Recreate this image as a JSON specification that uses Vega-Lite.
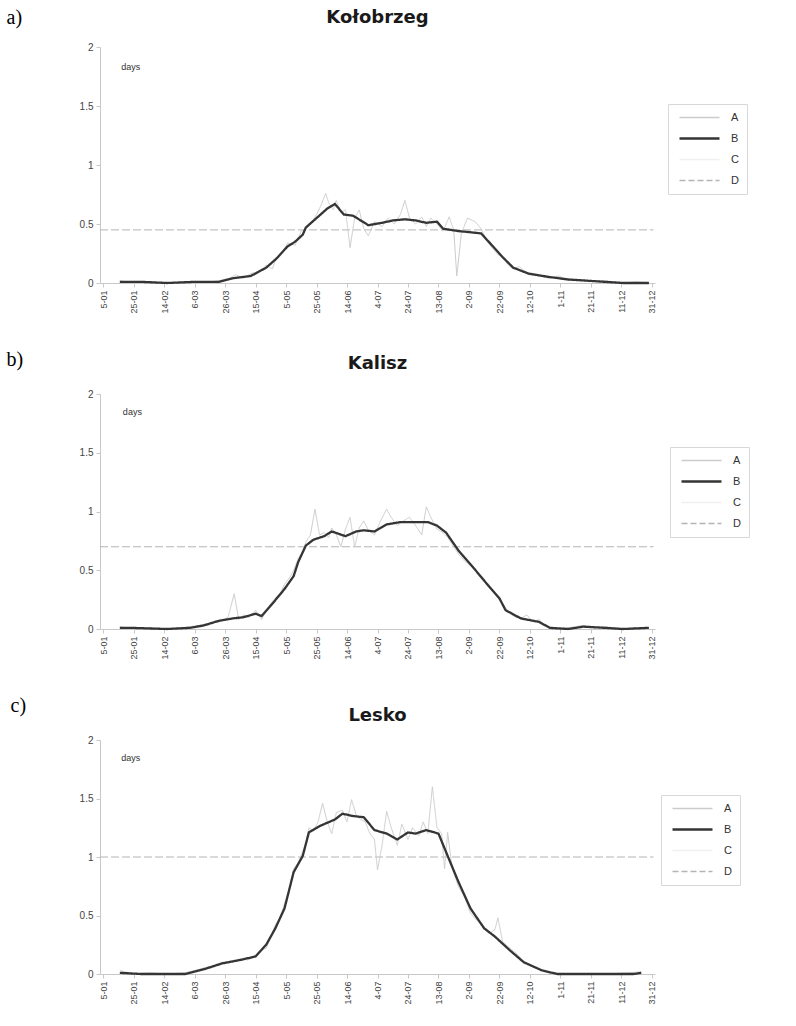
{
  "$schema": "https://vega.github.io/schema/vega-lite/v6.json",
  "background": "white",
  "padding": {"left": 6, "top": 7, "right": 5, "bottom": 5},
  "spacing": 35,
  "config": {
    "view": {"stroke": null},
    "font": "Liberation Sans",
    "axis": {"grid": false, "domainColor": "#c8c8c8", "tickColor": "#c8c8c8", "tickSize": 4, "labelFontSize": 9, "labelColor": "#444", "labelPadding": 3, "labelOverlap": false},
    "title": {"font": "DejaVu Sans", "fontSize": 18, "fontWeight": "bold", "color": "#1a1a1a"}
  },
  "resolve": {"scale": {"color": "independent"}, "legend": {"color": "independent"}},
  "datasets": {
    "notes": [
      {"station": "Kołobrzeg", "day": 17, "value": 1.83, "label": "days"},
      {"station": "Kalisz", "day": 18, "value": 1.85, "label": "days"},
      {"station": "Lesko", "day": 17, "value": 1.85, "label": "days"}
    ],
    "curves": [
      {"station": "Kołobrzeg", "series": "D", "day": 3, "value": 0.45},
      {"station": "Kołobrzeg", "series": "D", "day": 366, "value": 0.45},
      {"station": "Kalisz", "series": "D", "day": 3, "value": 0.70},
      {"station": "Kalisz", "series": "D", "day": 366, "value": 0.70},
      {"station": "Lesko", "series": "D", "day": 3, "value": 1.0},
      {"station": "Lesko", "series": "D", "day": 366, "value": 1.0},

      {"station": "Kołobrzeg", "series": "A", "day": 16, "value": 0.02},
      {"station": "Kołobrzeg", "series": "A", "day": 25, "value": 0.0},
      {"station": "Kołobrzeg", "series": "A", "day": 35, "value": 0.01},
      {"station": "Kołobrzeg", "series": "A", "day": 47, "value": 0.0},
      {"station": "Kołobrzeg", "series": "A", "day": 60, "value": 0.01},
      {"station": "Kołobrzeg", "series": "A", "day": 70, "value": 0.0},
      {"station": "Kołobrzeg", "series": "A", "day": 81, "value": 0.02},
      {"station": "Kołobrzeg", "series": "A", "day": 88, "value": 0.04},
      {"station": "Kołobrzeg", "series": "A", "day": 92, "value": 0.07},
      {"station": "Kołobrzeg", "series": "A", "day": 97, "value": 0.04},
      {"station": "Kołobrzeg", "series": "A", "day": 102, "value": 0.08},
      {"station": "Kołobrzeg", "series": "A", "day": 108, "value": 0.10},
      {"station": "Kołobrzeg", "series": "A", "day": 112, "value": 0.15},
      {"station": "Kołobrzeg", "series": "A", "day": 116, "value": 0.12},
      {"station": "Kołobrzeg", "series": "A", "day": 119, "value": 0.22},
      {"station": "Kołobrzeg", "series": "A", "day": 123, "value": 0.26},
      {"station": "Kołobrzeg", "series": "A", "day": 126, "value": 0.34},
      {"station": "Kołobrzeg", "series": "A", "day": 131, "value": 0.32},
      {"station": "Kołobrzeg", "series": "A", "day": 135, "value": 0.44},
      {"station": "Kołobrzeg", "series": "A", "day": 138, "value": 0.46},
      {"station": "Kołobrzeg", "series": "A", "day": 142, "value": 0.52},
      {"station": "Kołobrzeg", "series": "A", "day": 145, "value": 0.58},
      {"station": "Kołobrzeg", "series": "A", "day": 148, "value": 0.66},
      {"station": "Kołobrzeg", "series": "A", "day": 151, "value": 0.76},
      {"station": "Kołobrzeg", "series": "A", "day": 153, "value": 0.68},
      {"station": "Kołobrzeg", "series": "A", "day": 156, "value": 0.62},
      {"station": "Kołobrzeg", "series": "A", "day": 158, "value": 0.70},
      {"station": "Kołobrzeg", "series": "A", "day": 161, "value": 0.60},
      {"station": "Kołobrzeg", "series": "A", "day": 164, "value": 0.62},
      {"station": "Kołobrzeg", "series": "A", "day": 167, "value": 0.30},
      {"station": "Kołobrzeg", "series": "A", "day": 170, "value": 0.55},
      {"station": "Kołobrzeg", "series": "A", "day": 173, "value": 0.62},
      {"station": "Kołobrzeg", "series": "A", "day": 176, "value": 0.46},
      {"station": "Kołobrzeg", "series": "A", "day": 179, "value": 0.40},
      {"station": "Kołobrzeg", "series": "A", "day": 183, "value": 0.52},
      {"station": "Kołobrzeg", "series": "A", "day": 188, "value": 0.48},
      {"station": "Kołobrzeg", "series": "A", "day": 192, "value": 0.55},
      {"station": "Kołobrzeg", "series": "A", "day": 196, "value": 0.50},
      {"station": "Kołobrzeg", "series": "A", "day": 200, "value": 0.58},
      {"station": "Kołobrzeg", "series": "A", "day": 203, "value": 0.70},
      {"station": "Kołobrzeg", "series": "A", "day": 206, "value": 0.55},
      {"station": "Kołobrzeg", "series": "A", "day": 210, "value": 0.50},
      {"station": "Kołobrzeg", "series": "A", "day": 214, "value": 0.56},
      {"station": "Kołobrzeg", "series": "A", "day": 217, "value": 0.48},
      {"station": "Kołobrzeg", "series": "A", "day": 220, "value": 0.55},
      {"station": "Kołobrzeg", "series": "A", "day": 224, "value": 0.50},
      {"station": "Kołobrzeg", "series": "A", "day": 228, "value": 0.44},
      {"station": "Kołobrzeg", "series": "A", "day": 232, "value": 0.56},
      {"station": "Kołobrzeg", "series": "A", "day": 235, "value": 0.45},
      {"station": "Kołobrzeg", "series": "A", "day": 237, "value": 0.06},
      {"station": "Kołobrzeg", "series": "A", "day": 240, "value": 0.42},
      {"station": "Kołobrzeg", "series": "A", "day": 244, "value": 0.55},
      {"station": "Kołobrzeg", "series": "A", "day": 249, "value": 0.52},
      {"station": "Kołobrzeg", "series": "A", "day": 253, "value": 0.46},
      {"station": "Kołobrzeg", "series": "A", "day": 256, "value": 0.38},
      {"station": "Kołobrzeg", "series": "A", "day": 260, "value": 0.30},
      {"station": "Kołobrzeg", "series": "A", "day": 264, "value": 0.24},
      {"station": "Kołobrzeg", "series": "A", "day": 267, "value": 0.22},
      {"station": "Kołobrzeg", "series": "A", "day": 271, "value": 0.15},
      {"station": "Kołobrzeg", "series": "A", "day": 274, "value": 0.12},
      {"station": "Kołobrzeg", "series": "A", "day": 278, "value": 0.14},
      {"station": "Kołobrzeg", "series": "A", "day": 284, "value": 0.07},
      {"station": "Kołobrzeg", "series": "A", "day": 290, "value": 0.06},
      {"station": "Kołobrzeg", "series": "A", "day": 298, "value": 0.04},
      {"station": "Kołobrzeg", "series": "A", "day": 304, "value": 0.06},
      {"station": "Kołobrzeg", "series": "A", "day": 310, "value": 0.02},
      {"station": "Kołobrzeg", "series": "A", "day": 320, "value": 0.02},
      {"station": "Kołobrzeg", "series": "A", "day": 334, "value": 0.02},
      {"station": "Kołobrzeg", "series": "A", "day": 346, "value": 0.0},
      {"station": "Kołobrzeg", "series": "A", "day": 355, "value": 0.01},
      {"station": "Kołobrzeg", "series": "A", "day": 363, "value": 0.0},

      {"station": "Kalisz", "series": "A", "day": 16, "value": 0.02},
      {"station": "Kalisz", "series": "A", "day": 25, "value": 0.0},
      {"station": "Kalisz", "series": "A", "day": 35, "value": 0.01},
      {"station": "Kalisz", "series": "A", "day": 47, "value": 0.0},
      {"station": "Kalisz", "series": "A", "day": 56, "value": 0.01},
      {"station": "Kalisz", "series": "A", "day": 62, "value": 0.02},
      {"station": "Kalisz", "series": "A", "day": 68, "value": 0.03},
      {"station": "Kalisz", "series": "A", "day": 75, "value": 0.05},
      {"station": "Kalisz", "series": "A", "day": 81, "value": 0.06},
      {"station": "Kalisz", "series": "A", "day": 87, "value": 0.10},
      {"station": "Kalisz", "series": "A", "day": 91, "value": 0.30},
      {"station": "Kalisz", "series": "A", "day": 94, "value": 0.08},
      {"station": "Kalisz", "series": "A", "day": 97, "value": 0.12},
      {"station": "Kalisz", "series": "A", "day": 101, "value": 0.10},
      {"station": "Kalisz", "series": "A", "day": 105, "value": 0.16},
      {"station": "Kalisz", "series": "A", "day": 109, "value": 0.08},
      {"station": "Kalisz", "series": "A", "day": 113, "value": 0.18},
      {"station": "Kalisz", "series": "A", "day": 117, "value": 0.25},
      {"station": "Kalisz", "series": "A", "day": 121, "value": 0.30},
      {"station": "Kalisz", "series": "A", "day": 124, "value": 0.38},
      {"station": "Kalisz", "series": "A", "day": 128, "value": 0.45},
      {"station": "Kalisz", "series": "A", "day": 130, "value": 0.50},
      {"station": "Kalisz", "series": "A", "day": 133, "value": 0.60},
      {"station": "Kalisz", "series": "A", "day": 136, "value": 0.66},
      {"station": "Kalisz", "series": "A", "day": 138, "value": 0.74},
      {"station": "Kalisz", "series": "A", "day": 141, "value": 0.80},
      {"station": "Kalisz", "series": "A", "day": 144, "value": 1.02},
      {"station": "Kalisz", "series": "A", "day": 147, "value": 0.80},
      {"station": "Kalisz", "series": "A", "day": 150, "value": 0.82},
      {"station": "Kalisz", "series": "A", "day": 153, "value": 0.78},
      {"station": "Kalisz", "series": "A", "day": 155, "value": 0.86},
      {"station": "Kalisz", "series": "A", "day": 158, "value": 0.80},
      {"station": "Kalisz", "series": "A", "day": 161, "value": 0.70},
      {"station": "Kalisz", "series": "A", "day": 164, "value": 0.85},
      {"station": "Kalisz", "series": "A", "day": 167, "value": 0.95},
      {"station": "Kalisz", "series": "A", "day": 170, "value": 0.70},
      {"station": "Kalisz", "series": "A", "day": 173, "value": 0.86},
      {"station": "Kalisz", "series": "A", "day": 176, "value": 0.92},
      {"station": "Kalisz", "series": "A", "day": 179, "value": 0.84},
      {"station": "Kalisz", "series": "A", "day": 183, "value": 0.80},
      {"station": "Kalisz", "series": "A", "day": 187, "value": 0.92},
      {"station": "Kalisz", "series": "A", "day": 191, "value": 1.02},
      {"station": "Kalisz", "series": "A", "day": 194, "value": 0.95},
      {"station": "Kalisz", "series": "A", "day": 198, "value": 0.88},
      {"station": "Kalisz", "series": "A", "day": 202, "value": 0.92},
      {"station": "Kalisz", "series": "A", "day": 206, "value": 0.95},
      {"station": "Kalisz", "series": "A", "day": 210, "value": 0.88},
      {"station": "Kalisz", "series": "A", "day": 214, "value": 0.80},
      {"station": "Kalisz", "series": "A", "day": 217, "value": 1.04},
      {"station": "Kalisz", "series": "A", "day": 220, "value": 0.95},
      {"station": "Kalisz", "series": "A", "day": 224, "value": 0.85},
      {"station": "Kalisz", "series": "A", "day": 228, "value": 0.82},
      {"station": "Kalisz", "series": "A", "day": 231, "value": 0.78},
      {"station": "Kalisz", "series": "A", "day": 235, "value": 0.70},
      {"station": "Kalisz", "series": "A", "day": 238, "value": 0.64},
      {"station": "Kalisz", "series": "A", "day": 242, "value": 0.58},
      {"station": "Kalisz", "series": "A", "day": 245, "value": 0.55},
      {"station": "Kalisz", "series": "A", "day": 248, "value": 0.52},
      {"station": "Kalisz", "series": "A", "day": 252, "value": 0.46},
      {"station": "Kalisz", "series": "A", "day": 255, "value": 0.40},
      {"station": "Kalisz", "series": "A", "day": 258, "value": 0.38},
      {"station": "Kalisz", "series": "A", "day": 262, "value": 0.30},
      {"station": "Kalisz", "series": "A", "day": 265, "value": 0.25},
      {"station": "Kalisz", "series": "A", "day": 269, "value": 0.18},
      {"station": "Kalisz", "series": "A", "day": 273, "value": 0.12},
      {"station": "Kalisz", "series": "A", "day": 276, "value": 0.10},
      {"station": "Kalisz", "series": "A", "day": 279, "value": 0.09},
      {"station": "Kalisz", "series": "A", "day": 283, "value": 0.12},
      {"station": "Kalisz", "series": "A", "day": 287, "value": 0.06},
      {"station": "Kalisz", "series": "A", "day": 291, "value": 0.08},
      {"station": "Kalisz", "series": "A", "day": 295, "value": 0.03},
      {"station": "Kalisz", "series": "A", "day": 300, "value": 0.0},
      {"station": "Kalisz", "series": "A", "day": 310, "value": 0.01},
      {"station": "Kalisz", "series": "A", "day": 320, "value": 0.03},
      {"station": "Kalisz", "series": "A", "day": 328, "value": 0.01},
      {"station": "Kalisz", "series": "A", "day": 334, "value": 0.02},
      {"station": "Kalisz", "series": "A", "day": 346, "value": 0.0},
      {"station": "Kalisz", "series": "A", "day": 355, "value": 0.01},
      {"station": "Kalisz", "series": "A", "day": 363, "value": 0.01},

      {"station": "Lesko", "series": "A", "day": 16, "value": 0.03},
      {"station": "Lesko", "series": "A", "day": 25, "value": 0.0},
      {"station": "Lesko", "series": "A", "day": 35, "value": 0.01},
      {"station": "Lesko", "series": "A", "day": 47, "value": 0.0},
      {"station": "Lesko", "series": "A", "day": 59, "value": 0.01},
      {"station": "Lesko", "series": "A", "day": 65, "value": 0.03},
      {"station": "Lesko", "series": "A", "day": 71, "value": 0.05},
      {"station": "Lesko", "series": "A", "day": 77, "value": 0.07},
      {"station": "Lesko", "series": "A", "day": 83, "value": 0.10},
      {"station": "Lesko", "series": "A", "day": 89, "value": 0.11},
      {"station": "Lesko", "series": "A", "day": 95, "value": 0.13},
      {"station": "Lesko", "series": "A", "day": 100, "value": 0.12},
      {"station": "Lesko", "series": "A", "day": 105, "value": 0.16},
      {"station": "Lesko", "series": "A", "day": 108, "value": 0.20},
      {"station": "Lesko", "series": "A", "day": 112, "value": 0.22},
      {"station": "Lesko", "series": "A", "day": 115, "value": 0.32},
      {"station": "Lesko", "series": "A", "day": 118, "value": 0.42},
      {"station": "Lesko", "series": "A", "day": 121, "value": 0.48},
      {"station": "Lesko", "series": "A", "day": 124, "value": 0.60},
      {"station": "Lesko", "series": "A", "day": 127, "value": 0.72},
      {"station": "Lesko", "series": "A", "day": 130, "value": 0.90},
      {"station": "Lesko", "series": "A", "day": 133, "value": 0.95},
      {"station": "Lesko", "series": "A", "day": 136, "value": 1.05},
      {"station": "Lesko", "series": "A", "day": 138, "value": 1.12},
      {"station": "Lesko", "series": "A", "day": 140, "value": 1.25},
      {"station": "Lesko", "series": "A", "day": 143, "value": 1.22},
      {"station": "Lesko", "series": "A", "day": 146, "value": 1.30},
      {"station": "Lesko", "series": "A", "day": 149, "value": 1.46},
      {"station": "Lesko", "series": "A", "day": 152, "value": 1.30},
      {"station": "Lesko", "series": "A", "day": 155, "value": 1.20},
      {"station": "Lesko", "series": "A", "day": 158, "value": 1.38},
      {"station": "Lesko", "series": "A", "day": 162, "value": 1.40},
      {"station": "Lesko", "series": "A", "day": 165, "value": 1.30},
      {"station": "Lesko", "series": "A", "day": 168, "value": 1.49},
      {"station": "Lesko", "series": "A", "day": 171, "value": 1.36},
      {"station": "Lesko", "series": "A", "day": 174, "value": 1.32},
      {"station": "Lesko", "series": "A", "day": 177, "value": 1.30},
      {"station": "Lesko", "series": "A", "day": 180, "value": 1.20},
      {"station": "Lesko", "series": "A", "day": 183, "value": 1.15},
      {"station": "Lesko", "series": "A", "day": 185, "value": 0.89},
      {"station": "Lesko", "series": "A", "day": 188, "value": 1.10},
      {"station": "Lesko", "series": "A", "day": 191, "value": 1.39},
      {"station": "Lesko", "series": "A", "day": 194, "value": 1.25},
      {"station": "Lesko", "series": "A", "day": 198, "value": 1.10},
      {"station": "Lesko", "series": "A", "day": 201, "value": 1.28},
      {"station": "Lesko", "series": "A", "day": 205, "value": 1.15},
      {"station": "Lesko", "series": "A", "day": 208, "value": 1.25},
      {"station": "Lesko", "series": "A", "day": 212, "value": 1.18},
      {"station": "Lesko", "series": "A", "day": 215, "value": 1.30},
      {"station": "Lesko", "series": "A", "day": 218, "value": 1.20},
      {"station": "Lesko", "series": "A", "day": 221, "value": 1.60},
      {"station": "Lesko", "series": "A", "day": 224, "value": 1.25},
      {"station": "Lesko", "series": "A", "day": 227, "value": 1.20},
      {"station": "Lesko", "series": "A", "day": 229, "value": 0.90},
      {"station": "Lesko", "series": "A", "day": 231, "value": 1.21},
      {"station": "Lesko", "series": "A", "day": 234, "value": 0.90},
      {"station": "Lesko", "series": "A", "day": 238, "value": 0.75},
      {"station": "Lesko", "series": "A", "day": 242, "value": 0.66},
      {"station": "Lesko", "series": "A", "day": 246, "value": 0.52},
      {"station": "Lesko", "series": "A", "day": 250, "value": 0.46},
      {"station": "Lesko", "series": "A", "day": 255, "value": 0.40},
      {"station": "Lesko", "series": "A", "day": 259, "value": 0.35},
      {"station": "Lesko", "series": "A", "day": 262, "value": 0.38},
      {"station": "Lesko", "series": "A", "day": 264, "value": 0.48},
      {"station": "Lesko", "series": "A", "day": 267, "value": 0.28},
      {"station": "Lesko", "series": "A", "day": 270, "value": 0.24},
      {"station": "Lesko", "series": "A", "day": 274, "value": 0.20},
      {"station": "Lesko", "series": "A", "day": 278, "value": 0.15},
      {"station": "Lesko", "series": "A", "day": 281, "value": 0.10},
      {"station": "Lesko", "series": "A", "day": 285, "value": 0.08},
      {"station": "Lesko", "series": "A", "day": 289, "value": 0.05},
      {"station": "Lesko", "series": "A", "day": 293, "value": 0.03},
      {"station": "Lesko", "series": "A", "day": 298, "value": 0.01},
      {"station": "Lesko", "series": "A", "day": 303, "value": 0.0},
      {"station": "Lesko", "series": "A", "day": 315, "value": 0.0},
      {"station": "Lesko", "series": "A", "day": 334, "value": 0.0},
      {"station": "Lesko", "series": "A", "day": 350, "value": 0.01},
      {"station": "Lesko", "series": "A", "day": 358, "value": 0.02},

      {"station": "Kołobrzeg", "series": "B", "day": 16, "value": 0.01},
      {"station": "Kołobrzeg", "series": "B", "day": 30, "value": 0.01},
      {"station": "Kołobrzeg", "series": "B", "day": 47, "value": 0.0},
      {"station": "Kołobrzeg", "series": "B", "day": 65, "value": 0.01},
      {"station": "Kołobrzeg", "series": "B", "day": 81, "value": 0.01},
      {"station": "Kołobrzeg", "series": "B", "day": 90, "value": 0.04},
      {"station": "Kołobrzeg", "series": "B", "day": 102, "value": 0.06},
      {"station": "Kołobrzeg", "series": "B", "day": 112, "value": 0.13},
      {"station": "Kołobrzeg", "series": "B", "day": 119, "value": 0.21},
      {"station": "Kołobrzeg", "series": "B", "day": 126, "value": 0.31},
      {"station": "Kołobrzeg", "series": "B", "day": 131, "value": 0.35},
      {"station": "Kołobrzeg", "series": "B", "day": 136, "value": 0.41},
      {"station": "Kołobrzeg", "series": "B", "day": 138, "value": 0.47},
      {"station": "Kołobrzeg", "series": "B", "day": 145, "value": 0.55},
      {"station": "Kołobrzeg", "series": "B", "day": 152, "value": 0.63},
      {"station": "Kołobrzeg", "series": "B", "day": 157, "value": 0.67},
      {"station": "Kołobrzeg", "series": "B", "day": 163, "value": 0.58},
      {"station": "Kołobrzeg", "series": "B", "day": 169, "value": 0.57},
      {"station": "Kołobrzeg", "series": "B", "day": 179, "value": 0.49},
      {"station": "Kołobrzeg", "series": "B", "day": 188, "value": 0.51},
      {"station": "Kołobrzeg", "series": "B", "day": 195, "value": 0.53},
      {"station": "Kołobrzeg", "series": "B", "day": 203, "value": 0.54},
      {"station": "Kołobrzeg", "series": "B", "day": 210, "value": 0.53},
      {"station": "Kołobrzeg", "series": "B", "day": 217, "value": 0.51},
      {"station": "Kołobrzeg", "series": "B", "day": 224, "value": 0.52},
      {"station": "Kołobrzeg", "series": "B", "day": 228, "value": 0.46},
      {"station": "Kołobrzeg", "series": "B", "day": 238, "value": 0.44},
      {"station": "Kołobrzeg", "series": "B", "day": 246, "value": 0.43},
      {"station": "Kołobrzeg", "series": "B", "day": 253, "value": 0.42},
      {"station": "Kołobrzeg", "series": "B", "day": 260, "value": 0.32},
      {"station": "Kołobrzeg", "series": "B", "day": 267, "value": 0.22},
      {"station": "Kołobrzeg", "series": "B", "day": 274, "value": 0.13},
      {"station": "Kołobrzeg", "series": "B", "day": 284, "value": 0.08},
      {"station": "Kołobrzeg", "series": "B", "day": 298, "value": 0.05},
      {"station": "Kołobrzeg", "series": "B", "day": 310, "value": 0.03},
      {"station": "Kołobrzeg", "series": "B", "day": 334, "value": 0.01},
      {"station": "Kołobrzeg", "series": "B", "day": 346, "value": 0.0},
      {"station": "Kołobrzeg", "series": "B", "day": 363, "value": 0.0},

      {"station": "Kalisz", "series": "B", "day": 16, "value": 0.01},
      {"station": "Kalisz", "series": "B", "day": 23, "value": 0.01},
      {"station": "Kalisz", "series": "B", "day": 47, "value": 0.0},
      {"station": "Kalisz", "series": "B", "day": 62, "value": 0.01},
      {"station": "Kalisz", "series": "B", "day": 71, "value": 0.03},
      {"station": "Kalisz", "series": "B", "day": 81, "value": 0.07},
      {"station": "Kalisz", "series": "B", "day": 90, "value": 0.09},
      {"station": "Kalisz", "series": "B", "day": 97, "value": 0.10},
      {"station": "Kalisz", "series": "B", "day": 105, "value": 0.13},
      {"station": "Kalisz", "series": "B", "day": 109, "value": 0.11},
      {"station": "Kalisz", "series": "B", "day": 117, "value": 0.23},
      {"station": "Kalisz", "series": "B", "day": 124, "value": 0.34},
      {"station": "Kalisz", "series": "B", "day": 130, "value": 0.45},
      {"station": "Kalisz", "series": "B", "day": 133, "value": 0.57},
      {"station": "Kalisz", "series": "B", "day": 138, "value": 0.71},
      {"station": "Kalisz", "series": "B", "day": 143, "value": 0.76},
      {"station": "Kalisz", "series": "B", "day": 150, "value": 0.79},
      {"station": "Kalisz", "series": "B", "day": 155, "value": 0.83},
      {"station": "Kalisz", "series": "B", "day": 164, "value": 0.79},
      {"station": "Kalisz", "series": "B", "day": 171, "value": 0.83},
      {"station": "Kalisz", "series": "B", "day": 176, "value": 0.84},
      {"station": "Kalisz", "series": "B", "day": 183, "value": 0.83},
      {"station": "Kalisz", "series": "B", "day": 191, "value": 0.89},
      {"station": "Kalisz", "series": "B", "day": 200, "value": 0.91},
      {"station": "Kalisz", "series": "B", "day": 210, "value": 0.91},
      {"station": "Kalisz", "series": "B", "day": 218, "value": 0.91},
      {"station": "Kalisz", "series": "B", "day": 224, "value": 0.88},
      {"station": "Kalisz", "series": "B", "day": 230, "value": 0.82},
      {"station": "Kalisz", "series": "B", "day": 238, "value": 0.67},
      {"station": "Kalisz", "series": "B", "day": 248, "value": 0.52},
      {"station": "Kalisz", "series": "B", "day": 257, "value": 0.38},
      {"station": "Kalisz", "series": "B", "day": 265, "value": 0.26},
      {"station": "Kalisz", "series": "B", "day": 269, "value": 0.16},
      {"station": "Kalisz", "series": "B", "day": 279, "value": 0.09},
      {"station": "Kalisz", "series": "B", "day": 291, "value": 0.06},
      {"station": "Kalisz", "series": "B", "day": 298, "value": 0.01},
      {"station": "Kalisz", "series": "B", "day": 310, "value": 0.0},
      {"station": "Kalisz", "series": "B", "day": 320, "value": 0.02},
      {"station": "Kalisz", "series": "B", "day": 334, "value": 0.01},
      {"station": "Kalisz", "series": "B", "day": 346, "value": 0.0},
      {"station": "Kalisz", "series": "B", "day": 363, "value": 0.01},

      {"station": "Lesko", "series": "B", "day": 16, "value": 0.01},
      {"station": "Lesko", "series": "B", "day": 30, "value": 0.0},
      {"station": "Lesko", "series": "B", "day": 59, "value": 0.0},
      {"station": "Lesko", "series": "B", "day": 71, "value": 0.04},
      {"station": "Lesko", "series": "B", "day": 83, "value": 0.09},
      {"station": "Lesko", "series": "B", "day": 95, "value": 0.12},
      {"station": "Lesko", "series": "B", "day": 105, "value": 0.15},
      {"station": "Lesko", "series": "B", "day": 112, "value": 0.25},
      {"station": "Lesko", "series": "B", "day": 118, "value": 0.39},
      {"station": "Lesko", "series": "B", "day": 124, "value": 0.56},
      {"station": "Lesko", "series": "B", "day": 130, "value": 0.87},
      {"station": "Lesko", "series": "B", "day": 136, "value": 1.01},
      {"station": "Lesko", "series": "B", "day": 140, "value": 1.21},
      {"station": "Lesko", "series": "B", "day": 148, "value": 1.27},
      {"station": "Lesko", "series": "B", "day": 157, "value": 1.32},
      {"station": "Lesko", "series": "B", "day": 162, "value": 1.37},
      {"station": "Lesko", "series": "B", "day": 169, "value": 1.35},
      {"station": "Lesko", "series": "B", "day": 176, "value": 1.34},
      {"station": "Lesko", "series": "B", "day": 183, "value": 1.23},
      {"station": "Lesko", "series": "B", "day": 191, "value": 1.20},
      {"station": "Lesko", "series": "B", "day": 198, "value": 1.15},
      {"station": "Lesko", "series": "B", "day": 205, "value": 1.21},
      {"station": "Lesko", "series": "B", "day": 210, "value": 1.20},
      {"station": "Lesko", "series": "B", "day": 217, "value": 1.23},
      {"station": "Lesko", "series": "B", "day": 225, "value": 1.20},
      {"station": "Lesko", "series": "B", "day": 231, "value": 1.01},
      {"station": "Lesko", "series": "B", "day": 238, "value": 0.79},
      {"station": "Lesko", "series": "B", "day": 246, "value": 0.56},
      {"station": "Lesko", "series": "B", "day": 255, "value": 0.39},
      {"station": "Lesko", "series": "B", "day": 262, "value": 0.32},
      {"station": "Lesko", "series": "B", "day": 272, "value": 0.20},
      {"station": "Lesko", "series": "B", "day": 281, "value": 0.10},
      {"station": "Lesko", "series": "B", "day": 293, "value": 0.03},
      {"station": "Lesko", "series": "B", "day": 303, "value": 0.0},
      {"station": "Lesko", "series": "B", "day": 334, "value": 0.0},
      {"station": "Lesko", "series": "B", "day": 353, "value": 0.0},
      {"station": "Lesko", "series": "B", "day": 358, "value": 0.01}
    ]
  },
  "vconcat": [
    {
      "width": 555, "height": 236,
      "title": {"text": "Kołobrzeg", "offset": -20},
      "layer": [
        {
          "data": {"name": "curves"},
          "transform": [{"filter": "datum.station === 'Kołobrzeg'"}],
          "mark": {"type": "line"},
          "encoding": {
            "x": {"field": "day", "type": "quantitative", "title": null, "scale": {"domain": [3, 367], "nice": false, "zero": false},
                  "axis": {"title": null, "values": [5, 25, 45, 65, 85, 105, 125, 145, 165, 185, 205, 225, 245, 265, 285, 305, 325, 345, 365], "labelExpr": "utcFormat(utc(2001, 0, datum.value), '%-d-%m')", "labelAngle": -90, "labelOverlap": false, "labelFlush": false}},
            "y": {"field": "value", "type": "quantitative", "title": "a)", "scale": {"domain": [0, 2], "nice": false},
                  "axis": {"values": [0, 0.5, 1, 1.5, 2], "format": ".1~f", "title": "a)", "titleAngle": 0, "titleX": -94, "titleY": -30, "titleAlign": "left", "titleBaseline": "middle", "titleFont": "Liberation Serif", "titleFontSize": 20, "titleFontWeight": "normal", "titleColor": "#000", "labelFontSize": 10}},
            "color": {"field": "series", "type": "nominal", "scale": {"domain": ["A", "B", "C", "D"], "range": ["#cccccc", "#353535", "#f0f0f0", "#b4b4b4"]},
                      "legend": {"title": null, "orient": "none", "legendX": 568, "legendY": 57, "symbolType": "stroke", "symbolSize": 1600, "symbolStrokeWidth": 1.5, "labelFontSize": 11, "labelColor": "#333", "strokeColor": "#d8d8d8", "fillColor": "white", "padding": 8, "rowPadding": 9, "labelOffset": 26, "symbolOffset": 18,
                                 "encode": {"symbols": {"update": {"strokeWidth": {"signal": "datum.value === 'B' ? 2.5 : 1.5"}, "strokeDash": {"signal": "datum.value === 'D' ? [6, 3] : [1, 0]"}}}}}},
            "strokeWidth": {"condition": {"test": "datum.series === 'B'", "value": 2.3}, "value": 1},
            "strokeDash": {"condition": {"test": "datum.series === 'D'", "value": [8, 3]}, "value": [1, 0]}
          }
        },
        {
          "data": {"name": "notes"},
          "transform": [{"filter": "datum.station === 'Kołobrzeg'"}],
          "mark": {"type": "text", "align": "left", "baseline": "middle", "fontSize": 9, "color": "#333"},
          "encoding": {
            "x": {"field": "day", "type": "quantitative", "title": null,
                  "axis": {"title": null, "values": [5, 25, 45, 65, 85, 105, 125, 145, 165, 185, 205, 225, 245, 265, 285, 305, 325, 345, 365], "labelExpr": "utcFormat(utc(2001, 0, datum.value), '%-d-%m')", "labelAngle": -90, "labelOverlap": false, "labelFlush": false}},
            "y": {"field": "value", "type": "quantitative", "title": "a)",
                  "axis": {"values": [0, 0.5, 1, 1.5, 2], "format": ".1~f", "title": "a)", "titleAngle": 0, "titleX": -94, "titleY": -30, "titleAlign": "left", "titleBaseline": "middle", "titleFont": "Liberation Serif", "titleFontSize": 20, "titleFontWeight": "normal", "titleColor": "#000", "labelFontSize": 10}},
            "text": {"field": "label"}
          }
        }
      ]
    },
    {
      "width": 555, "height": 235,
      "title": {"text": "Kalisz", "offset": -24},
      "layer": [
        {
          "data": {"name": "curves"},
          "transform": [{"filter": "datum.station === 'Kalisz'"}],
          "mark": {"type": "line"},
          "encoding": {
            "x": {"field": "day", "type": "quantitative", "title": null, "scale": {"domain": [3, 367], "nice": false, "zero": false},
                  "axis": {"title": null, "values": [5, 25, 45, 65, 85, 105, 125, 145, 165, 185, 205, 225, 245, 265, 285, 305, 325, 345, 365], "labelExpr": "utcFormat(utc(2001, 0, datum.value), '%-d-%m')", "labelAngle": -90, "labelOverlap": false, "labelFlush": false}},
            "y": {"field": "value", "type": "quantitative", "title": "b)", "scale": {"domain": [0, 2], "nice": false},
                  "axis": {"values": [0, 0.5, 1, 1.5, 2], "format": ".1~f", "title": "b)", "titleAngle": 0, "titleX": -94, "titleY": -35, "titleAlign": "left", "titleBaseline": "middle", "titleFont": "Liberation Serif", "titleFontSize": 20, "titleFontWeight": "normal", "titleColor": "#000", "labelFontSize": 10}},
            "color": {"field": "series", "type": "nominal", "scale": {"domain": ["A", "B", "C", "D"], "range": ["#cccccc", "#353535", "#f0f0f0", "#b4b4b4"]},
                      "legend": {"title": null, "orient": "none", "legendX": 570, "legendY": 53, "symbolType": "stroke", "symbolSize": 1600, "symbolStrokeWidth": 1.5, "labelFontSize": 11, "labelColor": "#333", "strokeColor": "#d8d8d8", "fillColor": "white", "padding": 8, "rowPadding": 9, "labelOffset": 26, "symbolOffset": 18,
                                 "encode": {"symbols": {"update": {"strokeWidth": {"signal": "datum.value === 'B' ? 2.5 : 1.5"}, "strokeDash": {"signal": "datum.value === 'D' ? [6, 3] : [1, 0]"}}}}}},
            "strokeWidth": {"condition": {"test": "datum.series === 'B'", "value": 2.3}, "value": 1},
            "strokeDash": {"condition": {"test": "datum.series === 'D'", "value": [8, 3]}, "value": [1, 0]}
          }
        },
        {
          "data": {"name": "notes"},
          "transform": [{"filter": "datum.station === 'Kalisz'"}],
          "mark": {"type": "text", "align": "left", "baseline": "middle", "fontSize": 9, "color": "#333"},
          "encoding": {
            "x": {"field": "day", "type": "quantitative", "title": null,
                  "axis": {"title": null, "values": [5, 25, 45, 65, 85, 105, 125, 145, 165, 185, 205, 225, 245, 265, 285, 305, 325, 345, 365], "labelExpr": "utcFormat(utc(2001, 0, datum.value), '%-d-%m')", "labelAngle": -90, "labelOverlap": false, "labelFlush": false}},
            "y": {"field": "value", "type": "quantitative", "title": "b)",
                  "axis": {"values": [0, 0.5, 1, 1.5, 2], "format": ".1~f", "title": "b)", "titleAngle": 0, "titleX": -94, "titleY": -35, "titleAlign": "left", "titleBaseline": "middle", "titleFont": "Liberation Serif", "titleFontSize": 20, "titleFontWeight": "normal", "titleColor": "#000", "labelFontSize": 10}},
            "text": {"field": "label"}
          }
        }
      ]
    },
    {
      "width": 555, "height": 234,
      "title": {"text": "Lesko", "offset": -30},
      "layer": [
        {
          "data": {"name": "curves"},
          "transform": [{"filter": "datum.station === 'Lesko'"}],
          "mark": {"type": "line"},
          "encoding": {
            "x": {"field": "day", "type": "quantitative", "title": null, "scale": {"domain": [3, 367], "nice": false, "zero": false},
                  "axis": {"title": null, "values": [5, 25, 45, 65, 85, 105, 125, 145, 165, 185, 205, 225, 245, 265, 285, 305, 325, 345, 365], "labelExpr": "utcFormat(utc(2001, 0, datum.value), '%-d-%m')", "labelAngle": -90, "labelOverlap": false, "labelFlush": false}},
            "y": {"field": "value", "type": "quantitative", "title": "c)", "scale": {"domain": [0, 2], "nice": false},
                  "axis": {"values": [0, 0.5, 1, 1.5, 2], "format": ".1~f", "title": "c)", "titleAngle": 0, "titleX": -90, "titleY": -35, "titleAlign": "left", "titleBaseline": "middle", "titleFont": "Liberation Serif", "titleFontSize": 20, "titleFontWeight": "normal", "titleColor": "#000", "labelFontSize": 10}},
            "color": {"field": "series", "type": "nominal", "scale": {"domain": ["A", "B", "C", "D"], "range": ["#cccccc", "#353535", "#f0f0f0", "#b4b4b4"]},
                      "legend": {"title": null, "orient": "none", "legendX": 561, "legendY": 55, "symbolType": "stroke", "symbolSize": 1600, "symbolStrokeWidth": 1.5, "labelFontSize": 11, "labelColor": "#333", "strokeColor": "#d8d8d8", "fillColor": "white", "padding": 8, "rowPadding": 9, "labelOffset": 26, "symbolOffset": 18,
                                 "encode": {"symbols": {"update": {"strokeWidth": {"signal": "datum.value === 'B' ? 2.5 : 1.5"}, "strokeDash": {"signal": "datum.value === 'D' ? [6, 3] : [1, 0]"}}}}}},
            "strokeWidth": {"condition": {"test": "datum.series === 'B'", "value": 2.3}, "value": 1},
            "strokeDash": {"condition": {"test": "datum.series === 'D'", "value": [8, 3]}, "value": [1, 0]}
          }
        },
        {
          "data": {"name": "notes"},
          "transform": [{"filter": "datum.station === 'Lesko'"}],
          "mark": {"type": "text", "align": "left", "baseline": "middle", "fontSize": 9, "color": "#333"},
          "encoding": {
            "x": {"field": "day", "type": "quantitative", "title": null,
                  "axis": {"title": null, "values": [5, 25, 45, 65, 85, 105, 125, 145, 165, 185, 205, 225, 245, 265, 285, 305, 325, 345, 365], "labelExpr": "utcFormat(utc(2001, 0, datum.value), '%-d-%m')", "labelAngle": -90, "labelOverlap": false, "labelFlush": false}},
            "y": {"field": "value", "type": "quantitative", "title": "c)",
                  "axis": {"values": [0, 0.5, 1, 1.5, 2], "format": ".1~f", "title": "c)", "titleAngle": 0, "titleX": -90, "titleY": -35, "titleAlign": "left", "titleBaseline": "middle", "titleFont": "Liberation Serif", "titleFontSize": 20, "titleFontWeight": "normal", "titleColor": "#000", "labelFontSize": 10}},
            "text": {"field": "label"}
          }
        }
      ]
    }
  ]
}
